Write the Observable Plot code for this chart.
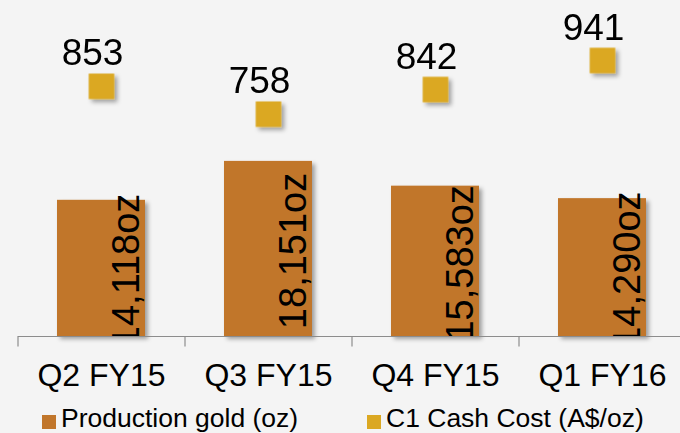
<!DOCTYPE html>
<html><head><meta charset="utf-8">
<script src="https://cdn.jsdelivr.net/npm/d3@7"></script>
<script src="https://cdn.jsdelivr.net/npm/@observablehq/plot@0.6"></script>
<style>
body{margin:0;background:#f4f4f4;font-family:"Liberation Sans",Arial,sans-serif;}
#wrap{position:relative;width:680px;height:433px;overflow:hidden;background:#f4f4f4;}
.legend{position:absolute;top:400px;left:0;width:680px;height:33px;font-size:26.5px;line-height:26px;color:#000;}
.sw{position:absolute;top:15px;width:14px;height:14px;}
.lt{position:absolute;top:5px;white-space:nowrap;}
</style></head><body><div id="wrap"></div>
<script>
const quarters = ["Q2 FY15", "Q3 FY15", "Q4 FY15", "Q1 FY16"];
const productionOz = [14118, 18151, 15583, 14290];
const cashCostAud = [853, 758, 842, 941];
const seriesNames = ["Production gold (oz)", "C1 Cash Cost (A$/oz)"];
const seriesColors = ["#C1762B", "#DBA822"];
const costToOzRatio = 30.4; // secondary (A$/oz) axis mapped onto primary (oz) axis

const data = quarters.map((q, i) => ({quarter: q, gold: productionOz[i], cost: cashCostAud[i]}));
const fmt = d3.format(",");
const font = "'Liberation Sans', Arial, sans-serif";

const plot = Plot.plot({
  width: 680,
  height: 400,
  marginTop: 8,
  marginBottom: 64,
  marginLeft: 18,
  marginRight: 0,
  style: {background: "#f4f4f4", fontFamily: font, fontSize: "32px", color: "#000", overflow: "visible"},
  x: {domain: quarters, range: [18, 686], paddingInner: 0.473, paddingOuter: 0.2365, axis: null},
  y: {domain: [0, 34000], axis: null},
  marks: [
    Plot.barY(data, {x: "quarter", y: "gold", fill: seriesColors[0]}),
    Plot.text(data, {x: "quarter", y: d => d.gold / 2, text: d => fmt(d.gold) + "oz", rotate: -90,
      fontSize: 38, dx: 25, dy: 2, fill: "#000", clip: true}),
    Plot.ruleY([0], {stroke: "#8c8c8c", strokeWidth: 1.2}),
    Plot.ruleX(quarters, {x: d => d, y1: 0, y2: -1100, dx: -83.5, stroke: "#8c8c8c", strokeWidth: 1.2}),
    Plot.text(quarters, {x: d => d, frameAnchor: "bottom", lineAnchor: "bottom", dy: 49, fontSize: 32, fill: "#000"}),
    Plot.dot(data, {x: "quarter", y: d => d.cost * costToOzRatio, symbol: "square", r: 14.4, fill: seriesColors[1], stroke: null}),
    Plot.text(data, {x: "quarter", y: d => d.cost * costToOzRatio, text: d => String(d.cost), lineAnchor: "bottom",
      dy: -21, dx: -9, fontSize: 37, fill: "#000"})
  ]
});

// drop shadows like the original
const svg = d3.select(plot);
const defs = svg.insert("defs", ":first-child");
const f = defs.append("filter").attr("id", "shadow").attr("x", "-20%").attr("y", "-20%").attr("width", "160%").attr("height", "160%");
f.append("feDropShadow").attr("dx", 3).attr("dy", 3).attr("stdDeviation", 2).attr("flood-color", "#000").attr("flood-opacity", 0.35);
svg.selectAll("g[aria-label=bar], g[aria-label=dot]").attr("filter", "url(#shadow)");

const wrap = document.getElementById("wrap");
wrap.appendChild(plot);

const legend = document.createElement("div");
legend.className = "legend";
const pos = [{sw: 42, t: 61}, {sw: 367, t: 386}];
seriesNames.forEach((name, i) => {
  const s = document.createElement("div");
  s.className = "sw"; s.style.left = pos[i].sw + "px"; s.style.background = seriesColors[i];
  const t = document.createElement("div");
  t.className = "lt"; t.style.left = pos[i].t + "px"; t.textContent = name;
  legend.appendChild(s); legend.appendChild(t);
});
wrap.appendChild(legend);
</script></body></html>
